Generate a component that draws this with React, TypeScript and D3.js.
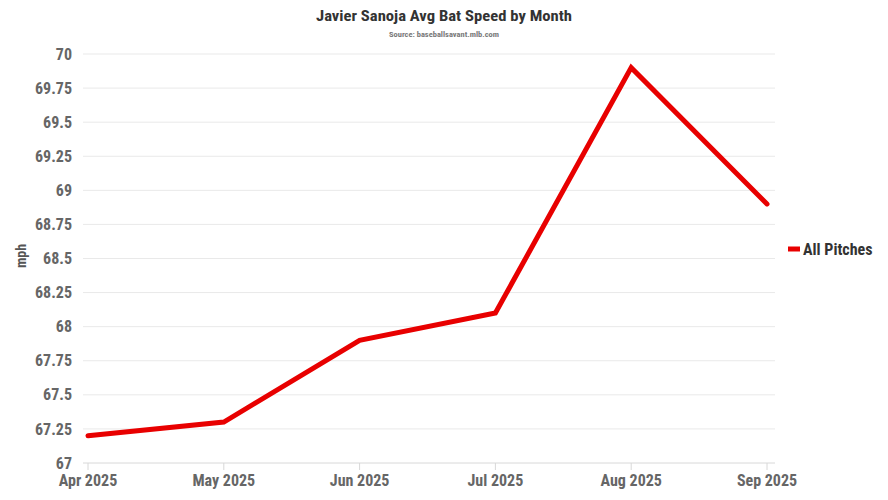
import React from "react";
import * as d3 from "d3";

const months = ["Apr 2025", "May 2025", "Jun 2025", "Jul 2025", "Aug 2025", "Sep 2025"];
const allPitches = [67.2, 67.3, 67.9, 68.1, 69.9, 68.9];
const yTicks = [67, 67.25, 67.5, 67.75, 68, 68.25, 68.5, 68.75, 69, 69.25, 69.5, 69.75, 70];
const seriesName = "All Pitches";
const title = "Javier Sanoja Avg Bat Speed by Month";
const subtitle = "Source: baseballsavant.mlb.com";
const yLabel = "mph";

const W = 888, H = 500;
const FONT = "'Roboto Condensed', Roboto, sans-serif";

export default function App() {
  const x = d3.scalePoint<string>().domain(months).range([88, 767]);
  const y = d3.scaleLinear().domain([67, 70]).range([463, 54]);
  const line = d3.line<number>().x((_, i) => x(months[i])!).y((d) => y(d));
  const gridL = 83, gridR = 775;
  return (
    <svg width={W} height={H} style={{ position: "absolute", left: 0, top: 0, background: "#fff" }} fontFamily={FONT}>
      <text x={444} y={21} textAnchor="middle" fontSize={15.5} fontWeight={700} fill="#333" textLength={256} lengthAdjust="spacingAndGlyphs">{title}</text>
      <text x={444} y={37} textAnchor="middle" fontSize={8} fontWeight={700} fill="#7a7a7a" textLength={110} lengthAdjust="spacingAndGlyphs">{subtitle}</text>
      {yTicks.map((t) => (
        <g key={t}>
          <line x1={gridL} x2={gridR} y1={y(t)} y2={y(t)} stroke={t === 67 ? "#d8d8d8" : "#e9e9e9"} strokeWidth={1} />
          <text x={72} y={y(t)} dy="0.35em" textAnchor="end" fontSize={16} fontWeight={700} fill="#666">{String(t)}</text>
        </g>
      ))}
      {months.map((m) => (
        <g key={m}>
          <line x1={x(m)} x2={x(m)} y1={463} y2={470} stroke="#d8d8d8" />
          <text x={x(m)} y={486} textAnchor="middle" fontSize={16} fontWeight={700} fill="#666">{m}</text>
        </g>
      ))}
      <text transform={`translate(26,${256}) rotate(-90)`} textAnchor="middle" fontSize={14} fontWeight={700} fill="#555">{yLabel}</text>
      <path d={line(allPitches) || ""} fill="none" stroke="#e80000" strokeWidth={5} strokeLinejoin="miter" strokeLinecap="round" />
      <line x1={788} x2={800} y1={249} y2={249} stroke="#e80000" strokeWidth={5} />
      <text x={803} y={249} dy="0.35em" fontSize={16} fontWeight={700} fill="#333">{seriesName}</text>
    </svg>
  );
}
